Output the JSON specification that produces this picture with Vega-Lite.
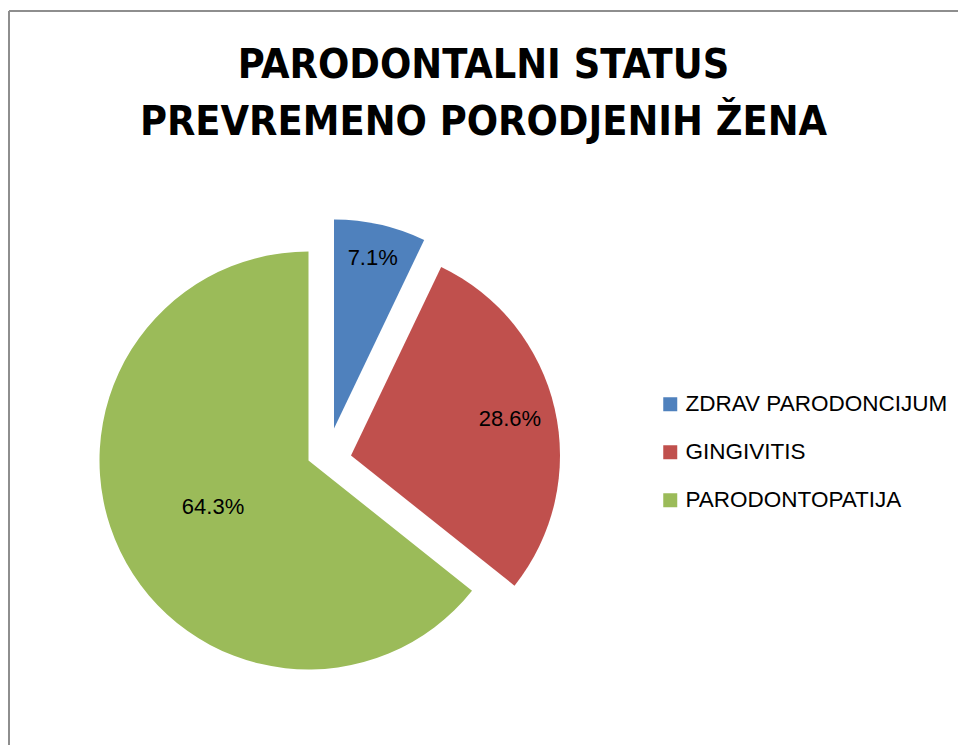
{
  "$schema": "https://vega.github.io/schema/vega-lite/v6.json",
  "width": 958,
  "height": 745,
  "autosize": {"type": "fit", "contains": "padding"},
  "padding": {"left": 9, "top": 11, "right": 0, "bottom": 0},
  "background": "white",
  "view": {"stroke": "#8e8e8e", "strokeWidth": 2, "strokeDash": [949, 1683, 734, 0]},
  "config": {
    "view": {"stroke": "#8e8e8e", "strokeWidth": 2, "strokeDash": [949, 1683, 734, 0]},
    "style": {"cell": {"stroke": "#8e8e8e", "strokeWidth": 2, "strokeDash": [949, 1683, 734, 0]}},
    "font": "Liberation Sans"
  },
  "title": {
    "text": ["PARODONTALNI STATUS", "PREVREMENO PORODJENIH ŽENA"],
    "font": "DejaVu Sans Condensed",
    "fontSize": 41,
    "fontWeight": "bold",
    "color": "black",
    "lineHeight": 57,
    "anchor": "middle",
    "orient": "top",
    "offset": -133
  },
  "data": {
    "values": [
      {"category": "ZDRAV PARODONCIJUM", "value": 7.1, "label": "7.1%"},
      {"category": "GINGIVITIS", "value": 28.6, "label": "28.6%"},
      {"category": "PARODONTOPATIJA", "value": 64.3, "label": "64.3%"}
    ]
  },
  "transform": [
    {"stack": "value", "groupby": [], "sort": [{"field": "value", "order": "ascending"}], "as": ["s0", "s1"]},
    {"calculate": "(datum.s0 + datum.s1) / 2", "as": "mid"}
  ],
  "encoding": {},
  "layer": [
    {
      "transform": [{"filter": "datum.category === 'ZDRAV PARODONCIJUM'"}],
      "mark": {"type": "arc", "outerRadius": 209, "xOffset": -149.5, "yOffset": 50.5},
      "encoding": {
        "theta": {"field": "s0", "type": "quantitative", "scale": {"domain": [0, 100]}},
        "theta2": {"field": "s1"},
        "color": {"field": "category", "type": "nominal",
          "scale": {"domain": ["ZDRAV PARODONCIJUM", "GINGIVITIS", "PARODONTOPATIJA"], "range": ["#4F81BD", "#C0504D", "#9BBB59"]},
          "legend": {"orient": "none", "legendX": 650, "legendY": 382, "title": null, "symbolType": "square", "symbolSize": 196, "symbolStrokeWidth": 0, "labelFontSize": 22.5, "labelFont": "Liberation Sans", "labelColor": "black", "labelLimit": 500, "rowPadding": 25, "labelOffset": 4, "padding": 0}
        }
      }
    },
    {
      "transform": [{"filter": "datum.category === 'GINGIVITIS'"}],
      "mark": {"type": "arc", "outerRadius": 209, "xOffset": -132.5, "yOffset": 77.5},
      "encoding": {
        "theta": {"field": "s0", "type": "quantitative", "scale": {"domain": [0, 100]}},
        "theta2": {"field": "s1"},
        "color": {"field": "category", "type": "nominal"}
      }
    },
    {
      "transform": [{"filter": "datum.category === 'PARODONTOPATIJA'"}],
      "mark": {"type": "arc", "outerRadius": 209, "xOffset": -175, "yOffset": 82.5},
      "encoding": {
        "theta": {"field": "s0", "type": "quantitative", "scale": {"domain": [0, 100]}},
        "theta2": {"field": "s1"},
        "color": {"field": "category", "type": "nominal"}
      }
    },
    {
      "transform": [{"filter": "datum.category === 'ZDRAV PARODONCIJUM'"}],
      "mark": {"type": "text", "radius": 175, "xOffset": -149.5, "yOffset": 50.5, "fontSize": 22, "color": "black"},
      "encoding": {
        "theta": {"field": "mid", "type": "quantitative", "scale": {"domain": [0, 100]}},
        "text": {"field": "label"}
      }
    },
    {
      "transform": [{"filter": "datum.category === 'GINGIVITIS'"}],
      "mark": {"type": "text", "radius": 163, "xOffset": -132.5, "yOffset": 77.5, "fontSize": 22, "color": "black"},
      "encoding": {
        "theta": {"field": "mid", "type": "quantitative", "scale": {"domain": [0, 100]}},
        "text": {"field": "label"}
      }
    },
    {
      "transform": [{"filter": "datum.category === 'PARODONTOPATIJA'"}],
      "mark": {"type": "text", "radius": 106, "xOffset": -175, "yOffset": 82.5, "fontSize": 22, "color": "black"},
      "encoding": {
        "theta": {"field": "mid", "type": "quantitative", "scale": {"domain": [0, 100]}},
        "text": {"field": "label"}
      }
    }
  ]
}
